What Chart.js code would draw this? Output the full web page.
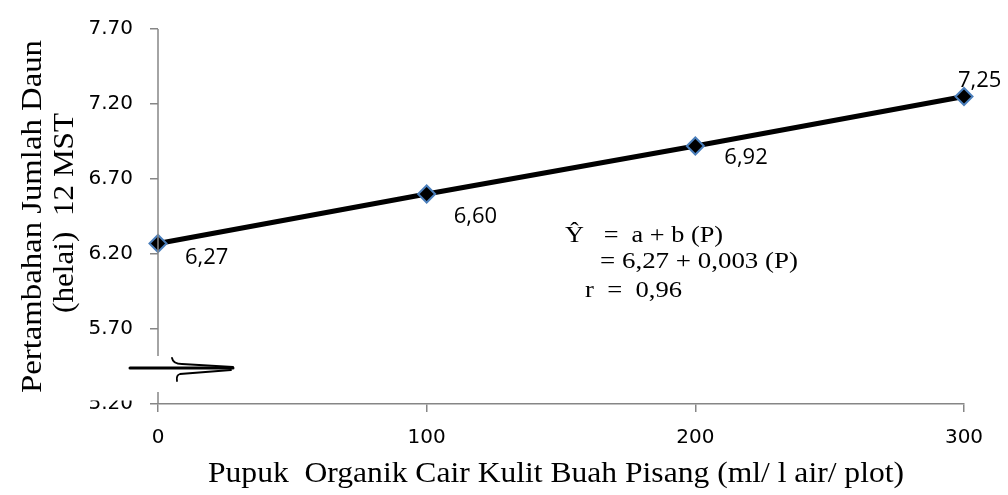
<!DOCTYPE html>
<html>
<head>
<meta charset="utf-8">
<script src="https://cdn.jsdelivr.net/npm/chart.js@4"></script>
<style>
  html, body { margin: 0; padding: 0; background: #fff; }
  #wrap { width: 1008px; height: 495px; }
</style>
</head>
<body>
<div id="wrap"><canvas id="leaf-chart" width="1008" height="495"></canvas></div>
<script>
// data
const doses = [0, 100, 200, 300];
const leafGain = [6.27, 6.60, 6.92, 7.25];
const pointLabels = ['6,27', '6,60', '6,92', '7,25'];
const yTicks = [5.2, 5.7, 6.2, 6.7, 7.2, 7.7];
const xTicks = [0, 100, 200, 300];
const xTitle = 'Pupuk  Organik Cair Kulit Buah Pisang (ml/ l air/ plot)';
const yTitle = ['Pertambahan Jumlah Daun', '(helai)  12 MST'];
const equation = ['\u0176   =  a + b (P)', '= 6,27 + 0,003 (P)', 'r  =  0,96'];

// label offsets (px) from each point, left aligned
const labelDx = [27, 27, 29, -6];
const labelDy = [14, 23, 12, -16];

const axisGrey = '#868686';

// fit text to a given width by squeezing/stretching it horizontally
function fitText(ctx, text, x, y, width) {
  const w = ctx.measureText(text).width;
  ctx.save();
  ctx.translate(x, y);
  ctx.scale(width / w, 1);
  ctx.fillText(text, 0, 0);
  ctx.restore();
}

const extras = {
  id: 'extras',
  afterDatasetsDraw(chart) {
    const ctx = chart.ctx;
    const area = chart.chartArea;
    const ys = chart.scales.y;

    // white patch of the break box that clips the top of the 5.20 label
    ctx.save();
    ctx.fillStyle = '#fff';
    ctx.fillRect(80, 388, 66, ys.getPixelForValue(5.2) - 3.5 - 388);
    ctx.restore();

    // y axis line with a gap for the break
    ctx.save();
    ctx.strokeStyle = axisGrey;
    ctx.lineWidth = 1.5;
    ctx.beginPath();
    ctx.moveTo(area.left, ys.getPixelForValue(7.7));
    ctx.lineTo(area.left, ys.getPixelForValue(5.52));
    ctx.moveTo(area.left, ys.getPixelForValue(5.28));
    ctx.lineTo(area.left, ys.getPixelForValue(5.2));
    ctx.stroke();

    // axis break symbol
    const by = ys.getPixelForValue(5.44);
    const bx = area.left;
    ctx.strokeStyle = '#000';
    ctx.lineCap = 'round';
    ctx.lineWidth = 3;
    ctx.beginPath();
    ctx.moveTo(bx - 28, by);
    ctx.lineTo(bx + 75, by);
    ctx.stroke();
    ctx.lineWidth = 1.8;
    ctx.beginPath();
    ctx.moveTo(bx + 14, by - 10);
    ctx.quadraticCurveTo(bx + 15, by - 4, bx + 24, by - 4);
    ctx.lineTo(bx + 75, by - 1);
    ctx.moveTo(bx + 73, by + 2);
    ctx.lineTo(bx + 22, by + 6);
    ctx.quadraticCurveTo(bx + 18, by + 7, bx + 19, by + 13);
    ctx.stroke();
    ctx.restore();

    // point labels
    ctx.save();
    ctx.fillStyle = '#000';
    ctx.font = '22px "Open Sans"';
    ctx.textAlign = 'left';
    ctx.textBaseline = 'middle';
    chart.getDatasetMeta(0).data.forEach((pt, i) => {
      ctx.fillText(pointLabels[i], pt.x + labelDx[i], pt.y + labelDy[i]);
    });
    ctx.restore();

    // regression text
    ctx.save();
    ctx.fillStyle = '#000';
    ctx.font = '24px "Liberation Serif"';
    ctx.textBaseline = 'alphabetic';
    fitText(ctx, equation[0], 565, 242, 158);
    fitText(ctx, equation[1], 600, 268, 198);
    fitText(ctx, equation[2], 585, 297, 97);
    ctx.restore();

    // axis titles
    ctx.save();
    ctx.fillStyle = '#000';
    ctx.font = '30px "Liberation Serif"';
    ctx.textBaseline = 'alphabetic';
    fitText(ctx, xTitle, 208, 482, 696);
    ctx.rotate(-Math.PI / 2);
    fitText(ctx, yTitle[0], -393, 41, 353);
    fitText(ctx, yTitle[1], -313, 73, 200);
    ctx.restore();
  }
};

new Chart(document.getElementById('leaf-chart'), {
  type: 'line',
  data: {
    datasets: [{
      data: doses.map((d, i) => ({ x: d, y: leafGain[i] })),
      borderColor: '#000',
      borderWidth: 5,
      pointStyle: 'rectRot',
      pointRadius: 8.5,
      pointBackgroundColor: '#000',
      pointBorderColor: '#4a7ebb',
      pointBorderWidth: 2,
      tension: 0,
      clip: false
    }]
  },
  plugins: [extras],
  options: {
    responsive: false,
    animation: false,
    layout: { padding: { top: 28, right: 44, left: 0, bottom: 0 } },
    plugins: { legend: { display: false }, tooltip: { enabled: false } },
    scales: {
      x: {
        type: 'linear',
        min: 0,
        max: 300,
        afterFit: (s) => { s.height = 91; },
        afterBuildTicks: (s) => { s.ticks = xTicks.map(v => ({ value: v })); },
        ticks: { color: '#000', font: { family: 'DejaVu Sans', size: 20 }, padding: 14, maxRotation: 0 },
        grid: { drawOnChartArea: false, color: axisGrey, lineWidth: 1.5, tickLength: 8 },
        border: { color: axisGrey, width: 1.5 }
      },
      y: {
        min: 5.2,
        max: 7.7,
        afterFit: (s) => { s.width = 158; },
        afterBuildTicks: (s) => { s.ticks = yTicks.map(v => ({ value: v })); },
        ticks: {
          color: '#000',
          font: { family: 'DejaVu Sans', size: 20 },
          padding: 17,
          callback: (v) => Number(v).toFixed(2)
        },
        grid: { drawOnChartArea: false, color: axisGrey, lineWidth: 1.5, tickLength: 8 },
        border: { display: false }
      }
    }
  }
});
</script>
</body>
</html>
